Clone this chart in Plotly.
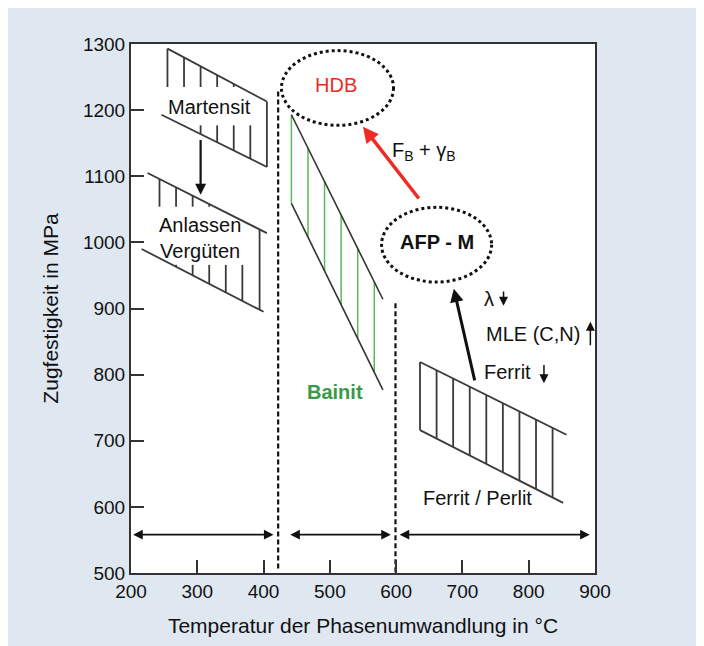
import plotly.graph_objects as go

# ---------------- data ----------------
x_ticks = [200, 300, 400, 500, 600, 700, 800, 900]
y_ticks = [500, 600, 700, 800, 900, 1000, 1100, 1200, 1300]

# Martensit band
mart_top_T = [255, 405]
mart_top_S = [1293, 1213]
mart_bot_T = [246, 405]
mart_bot_S = [1193, 1114]
mart_hatch_T = [255, 280, 305, 330, 355, 380, 405]
mart_label_gap = (250, 390, 1177, 1235)   # T0, T1, S0, S1 hidden behind label

# Anlassen / Vergueten band
anl_top_T = [225, 405]
anl_top_S = [1105, 1014]
anl_bot_T = [216, 400]
anl_bot_S = [990, 895]
anl_hatch_T = [243, 268, 293, 318, 343, 368, 394]
anl_label_gap = (235, 380, 966, 1054)

# Bainit band
bain_up_T = [442, 580]
bain_up_S = [1193, 914]
bain_lo_T = [442, 580]
bain_lo_S = [1059, 777]
bain_hatch_T = [442, 467, 492, 517, 542, 567]

# Ferrit / Perlit band
fp_top_T = [636, 857]
fp_top_S = [819, 709]
fp_bot_T = [636, 852]
fp_bot_S = [716, 606]
fp_hatch_T = [636, 661, 686, 711, 736, 761, 786, 811, 836]

# dashed phase borders
div_T = [422, 599]
div_top_S = [1228, 908]
div_bot_S = [503, 500]

# temperature ranges (double arrows)
range_S = 558
range_start_T = [201, 438, 603]
range_end_T = [415, 592, 892]

# ellipses
hdb_ell_T = [427, 596]
hdb_ell_S = [1177, 1290]
afp_ell_T = [578, 744]
afp_ell_S = [940, 1053]

# arrows: (tail T, tail S, head T, head S)
arrow_mart = (305, 1157, 305, 1072)
arrow_red = (636, 1064, 550, 1175)
arrow_afp = (719, 789, 687, 930)
arrow_lambda = (762, 928, 762, 904)
arrow_mle = (893, 842, 893, 880)
arrow_ferrit = (823, 817, 823, 787)

# labels: (text, T, S)
lbl_mart = ("Martensit", 318, 1204)
lbl_anl = ("Anlassen<br>Vergüten", 304, 1006)
lbl_hdb = ("HDB", 510, 1238)
lbl_fb = ("F<sub>B</sub> + γ<sub>B</sub>", 642, 1137)
lbl_afp = ("<b>AFP - M</b>", 661, 1000)
lbl_bain = ("<b>Bainit</b>", 508, 774)
lbl_lambda = ("λ", 740, 915)
lbl_mle = ("MLE (C,N)", 806, 862)
lbl_ferrit = ("Ferrit", 768, 804)
lbl_fp = ("Ferrit / Perlit", 722, 614)

# ---------------- helpers ----------------
FONT = "Arial, Liberation Sans, sans-serif"
LINE = "#3a3a3a"


def line_at(T, Ts, Ss):
    return Ss[0] + (T - Ts[0]) * (Ss[1] - Ss[0]) / (Ts[1] - Ts[0])


def hatch(ts, tT, tS, bT, bS, gap=None):
    xs, ys = [], []
    for t in ts:
        s_top = line_at(t, tT, tS)
        s_bot = line_at(t, bT, bS)
        if gap and gap[0] <= t <= gap[1]:
            g0, g1 = gap[2], gap[3]
            if s_top > g1:
                xs += [t, t, None]
                ys += [s_top, max(g1, s_bot), None]
            if s_bot < g0:
                xs += [t, t, None]
                ys += [min(g0, s_top), s_bot, None]
        else:
            xs += [t, t, None]
            ys += [s_top, s_bot, None]
    return xs, ys


fig = go.Figure()


def add_line(xs, ys, color=LINE, width=1.8, dash=None):
    fig.add_trace(go.Scatter(x=xs, y=ys, mode="lines", hoverinfo="skip",
                             line=dict(color=color, width=width, dash=dash),
                             showlegend=False))


# Martensit
hx, hy = hatch(mart_hatch_T, mart_top_T, mart_top_S, mart_bot_T, mart_bot_S,
               mart_label_gap)
add_line(hx, hy)
add_line(mart_top_T, mart_top_S)
add_line(mart_bot_T, mart_bot_S)

# Anlassen
hx, hy = hatch(anl_hatch_T, anl_top_T, anl_top_S, anl_bot_T, anl_bot_S,
               anl_label_gap)
add_line(hx, hy)
add_line(anl_top_T, anl_top_S)
add_line(anl_bot_T, anl_bot_S)

# Bainit
hx, hy = hatch(bain_hatch_T, bain_up_T, bain_up_S, bain_lo_T, bain_lo_S)
add_line(hx, hy, color="#5cb85c", width=1.5)
add_line(bain_up_T, bain_up_S, color="#333333", width=1.6)
add_line(bain_lo_T, bain_lo_S, color="#333333", width=1.6)

# Ferrit / Perlit
hx, hy = hatch(fp_hatch_T, fp_top_T, fp_top_S, fp_bot_T, fp_bot_S)
add_line(hx, hy)
add_line(fp_top_T, fp_top_S)
add_line(fp_bot_T, fp_bot_S)

# dashed borders
for t, s0, s1 in zip(div_T, div_top_S, div_bot_S):
    add_line([t, t], [s0, s1], color="#111111", width=2.2, dash="5px,3px")

shapes = []
for ts, ss in ((hdb_ell_T, hdb_ell_S), (afp_ell_T, afp_ell_S)):
    shapes.append(dict(type="circle", xref="x", yref="y",
                       x0=ts[0], x1=ts[1], y0=ss[0], y1=ss[1],
                       line=dict(color="#111111", width=3, dash="dot")))

annotations = []


def add_arrow(a, color="#111111", width=2.5, head=2, size=1.0, side="end"):
    annotations.append(dict(x=a[2], y=a[3], ax=a[0], ay=a[1],
                            xref="x", yref="y", axref="x", ayref="y",
                            text="", showarrow=True, arrowhead=head,
                            arrowsize=size, arrowwidth=width,
                            arrowcolor=color, arrowside=side,
                            standoff=0, startstandoff=0))


add_arrow(arrow_mart, width=2.2)
add_arrow(arrow_red, color="#ee2b24", width=3.5, size=0.9)
add_arrow(arrow_afp, width=3, size=0.9)
add_arrow(arrow_lambda, width=1.5, head=2, size=1.2)
add_arrow(arrow_mle, width=1.5, head=2, size=1.2)
add_arrow(arrow_ferrit, width=1.5, head=2, size=1.2)

for t0, t1 in zip(range_start_T, range_end_T):
    add_arrow((t0, range_S, t1, range_S), width=1.6, head=2, size=1.2,
              side="end+start")


def add_label(lbl, color="#111111", size=20):
    annotations.append(dict(x=lbl[1], y=lbl[2], xref="x", yref="y",
                            text=lbl[0], showarrow=False,
                            font=dict(family=FONT, size=size, color=color)))


add_label(lbl_mart)
add_label(lbl_anl)
add_label(lbl_hdb, color="#ee2b24")
add_label(lbl_fb)
add_label(lbl_afp)
add_label(lbl_bain, color="#3a9a4a")
add_label(lbl_lambda)
add_label(lbl_mle)
add_label(lbl_ferrit)
add_label(lbl_fp)

axis_common = dict(showline=True, mirror=True, linecolor="#333333",
                   linewidth=2, ticks="inside", ticklen=13, tickwidth=1.5,
                   tickcolor="#333333", showgrid=False, zeroline=False,
                   tickfont=dict(family=FONT, size=19, color="#111111"))

fig.update_layout(
    width=696, height=646,
    margin=dict(l=123, r=109, t=36, b=81),
    paper_bgcolor="#dfe7f1",
    plot_bgcolor="white",
    shapes=shapes,
    annotations=annotations,
    xaxis=dict(range=[200, 900], tickvals=x_ticks,
               title=dict(text="Temperatur der Phasenumwandlung in °C",
                          font=dict(family=FONT, size=21, color="#111111"),
                          standoff=18),
               **axis_common),
    yaxis=dict(range=[500, 1300], tickvals=y_ticks,
               title=dict(text="Zugfestigkeit in MPa",
                          font=dict(family=FONT, size=21, color="#111111"),
                          standoff=19),
               **axis_common),
)

fig.write_html("out.html")
